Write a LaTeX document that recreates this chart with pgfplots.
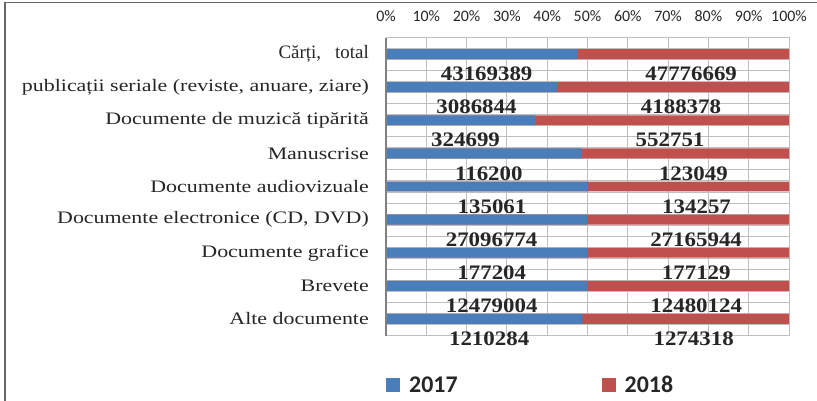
\documentclass[border=0pt]{standalone}
\usepackage{pgfplots}
\usepackage{pgfplotstable}
\pgfplotsset{compat=1.18}
\usepackage{fontspec}
\setmainfont{Liberation Serif}
\newfontfamily\catfont{Liberation Serif}[FakeStretch=1.25]
\newfontfamily\plainserif{Liberation Serif}
\newfontfamily\lblfont{Liberation Serif}[FakeStretch=1.11]
\newfontfamily\tickfont{Carlito}
\definecolor{c2017}{HTML}{4A7EBB}
\definecolor{c2018}{HTML}{C0504D}
\definecolor{gridc}{HTML}{BFBFBF}
\definecolor{txt}{HTML}{262626}

\pgfplotstableread{
idx a b
0 43169389 47776669
1 3086844 4188378
2 324699 552751
3 116200 123049
4 135061 134257
5 27096774 27165944
6 177204 177129
7 12479004 12480124
8 1210284 1274318
}\datatable

\begin{document}
\begin{tikzpicture}[x=1bp,y=1bp]
\begin{axis}[
  at={(386bp,65.5bp)}, anchor=south west,
  scale only axis, width=403bp, height=298bp,
  clip=false,
  xmin=0, xmax=100, ymin=-0.5, ymax=8.5, y dir=reverse,
  xtick={0,10,...,100},
  xticklabels={0\%,10\%,20\%,30\%,40\%,50\%,60\%,70\%,80\%,90\%,100\%},
  xticklabel pos=upper,
  xticklabel style={font=\tickfont\fontsize{16}{18}\selectfont, text=txt, inner sep=0pt, yshift=16bp},
  ytick={0,...,8},
  yticklabels={{\plainserif\fontsize{19}{21}\selectfont Cărți,\hspace{14bp}total},{publicații seriale (reviste, anuare, ziare)},{Documente de muzică tipărită},{Manuscrise},{Documente audiovizuale},{Documente electronice (CD, DVD)},{Documente grafice},{Brevete},{Alte documente}},
  yticklabel style={font=\catfont\fontsize{17.6}{20}\selectfont, text=txt, inner sep=0pt, xshift=-17bp},
  major tick length=0pt, minor tick length=0pt,
  xmajorgrids=true, ymajorgrids=false,
  minor ytick={-0.1667,0.1667,0.5,0.8333,1.1667,1.5,1.8333,2.1667,2.5,2.8333,3.1667,3.5,3.8333,4.1667,4.5,4.8333,5.1667,5.5,5.8333,6.1667,6.5,6.8333,7.1667,7.5,7.8333,8.1667},
  yminorgrids=true,
  grid style={draw=gridc, line width=1bp},
  minor grid style={draw=gridc, line width=1bp},
  axis line style={draw=gridc, line width=1bp},
  legend columns=2,
  legend style={at={(0,-0.13)}, anchor=north west, draw=none, inner sep=0pt,
    font=\tickfont\bfseries\fontsize{24}{26}\selectfont, text=txt,
    /tikz/every odd column/.append style={column sep=7bp},
    /tikz/every even column/.append style={column sep=142bp}},
  legend image code/.code={\fill[#1] (0bp,-7bp) rectangle (14bp,7bp);},
]
% 2018 share (bar drawn from 0 to share2017 + share2018 = 100, then covered by 2017)
\addplot[xbar, bar width=0.3, bar shift=0pt, fill=c2018, draw=none, forget plot]
  table[x expr={100*(\thisrow{a}+\thisrow{b})/(\thisrow{a}+\thisrow{b})}, y expr=\coordindex] {\datatable};
% 2017 share
\addplot[xbar, bar width=0.3, bar shift=0pt, fill=c2017, draw=none]
  table[x expr={100*\thisrow{a}/(\thisrow{a}+\thisrow{b})}, y expr=\coordindex] {\datatable};
\addlegendentry{2017}
\addlegendimage{fill=c2018, draw=none}
\addlegendentry{2018}
% labels 2017
\addplot[only marks, mark=*, mark size=0pt, draw=none, forget plot,
  point meta=explicit symbolic,
  nodes near coords,
  every node near coord/.append style={anchor=center, inner sep=0pt, xshift=5bp,
    font=\lblfont\bfseries\fontsize{20.7}{22}\selectfont, text=txt}]
  table[x expr={50*\thisrow{a}/(\thisrow{a}+\thisrow{b})}, y expr=\coordindex+0.6, meta=a] {\datatable};
% labels 2018
\addplot[only marks, mark=*, mark size=0pt, draw=none, forget plot,
  point meta=explicit symbolic,
  nodes near coords,
  every node near coord/.append style={anchor=center, inner sep=0pt, xshift=8bp,
    font=\lblfont\bfseries\fontsize{20.7}{22}\selectfont, text=txt}]
  table[x expr={100*\thisrow{a}/(\thisrow{a}+\thisrow{b})+50*\thisrow{b}/(\thisrow{a}+\thisrow{b})}, y expr=\coordindex+0.6, meta=b] {\datatable};
\draw[color=black!50, line width=1.5bp] (rel axis cs:0,0) -- (rel axis cs:0,1);
\end{axis}
\draw[color=black!60, line width=1.5bp] (5bp,0bp) -- (5bp,398.5bp) -- (817bp,398.5bp);
\pgfresetboundingbox
\path[use as bounding box] (0bp,0bp) rectangle (817bp,401bp);
\end{tikzpicture}
\end{document}
